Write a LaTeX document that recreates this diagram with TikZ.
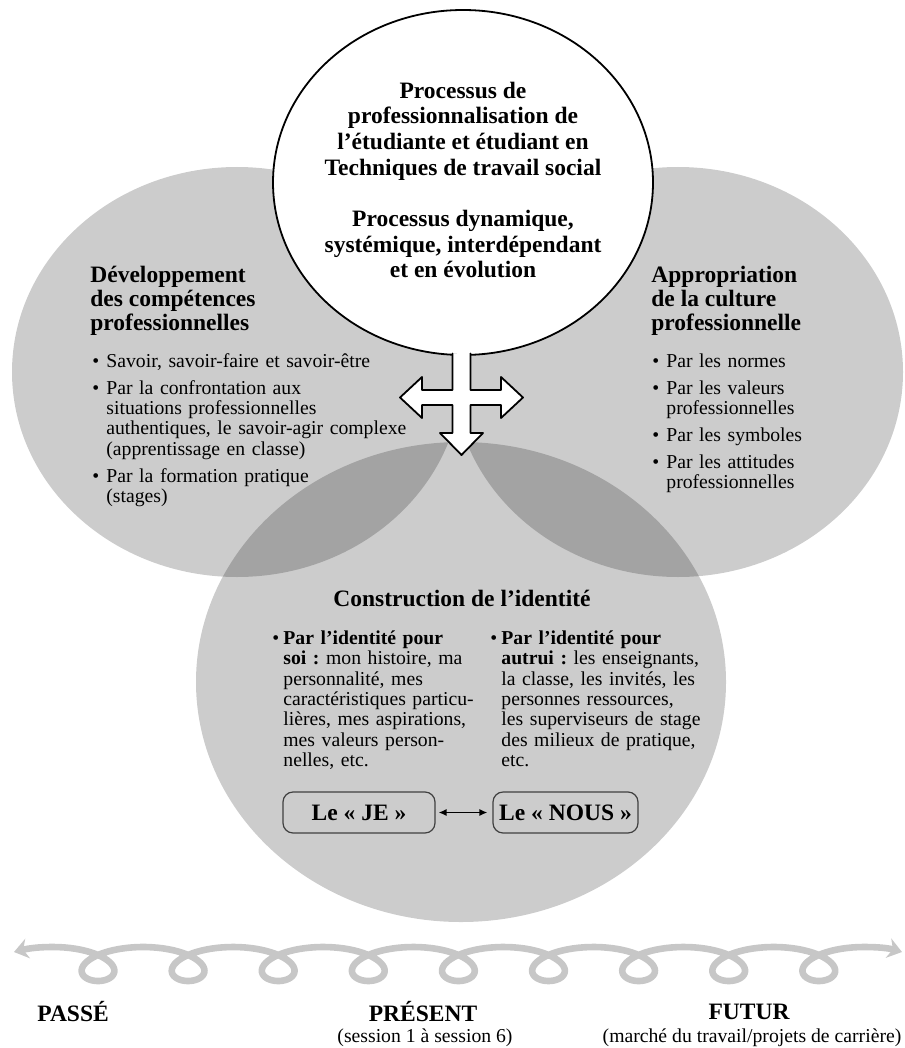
\documentclass[tikz,border=0pt]{standalone}
\usepackage{fontspec}
\setmainfont{Liberation Serif}
\usetikzlibrary{arrows.meta}

\newcommand{\corps}{\fontsize{9.85pt}{10.2pt}\selectfont\frenchspacing}
\newcommand{\gras}{\fontsize{11.75pt}{12pt}\selectfont\bfseries}
\newcommand{\grasrond}{\fontsize{11.75pt}{12.85pt}\selectfont\bfseries}
\newcommand{\puce}[2][7pt]{\par\noindent\hangindent=#1\hangafter=1\makebox[#1][l]{\textbullet}#2\par}

\begin{document}
\begin{tikzpicture}[line cap=round, line join=round, x=0.5pt, y=-0.5pt,
    zone/.style={fill=black, fill opacity=0.2},
    titre/.style={anchor=north west, inner sep=0pt, font=\gras, align=left},
    liste/.style={anchor=north west, inner sep=0pt, font=\corps\setlength{\parskip}{3.2pt}, align=left, text width=#1},
    liste/.default=110pt,
    boite/.style={draw=black!75, line width=0.6pt, rounded corners=5pt, minimum height=20.5pt, inner sep=0pt, font=\gras},
    etiq/.style={inner sep=0pt, font=\gras},
    sousetiq/.style={inner sep=0pt, font=\corps},
    frise/.style={draw=black!22, line width=3.3pt, >={Stealth[length=7pt,width=10pt]}, <->}]

                \useasboundingbox (0,0) rectangle (904,1048);

                % les trois zones grises
                \fill[zone] (237,372) ellipse [x radius=225, y radius=205];
                \fill[zone] (678,372) ellipse [x radius=225, y radius=205];
                \fill[zone] (461,682) ellipse [x radius=265, y radius=240];

                % cercle du haut et fleche en croix
                \filldraw[fill=white, line width=0.9pt] (463,182.5) ellipse [x radius=190, y radius=172.5];
                \filldraw[fill=white, line width=0.9pt] (452.5,353.5) -- (452.5,390) -- (422,390) -- (422,377)
                    -- (400,397.5) -- (422,418) -- (422,405) -- (452.5,405) -- (452.5,433) -- (440,433)
                    -- (461.5,455) -- (483,433) -- (470.5,433) -- (470.5,405) -- (501,405) -- (501,418)
                    -- (523,397.5) -- (501,377) -- (501,390) -- (470.5,390) -- (470.5,353.5);

                \node[align=center, inner sep=0pt, font=\grasrond] (processus) at (463,180)
                    {Processus de\\professionnalisation de\\l’étudiante et étudiant en\\Techniques de travail social\\[12.85pt]Processus dynamique,\\systémique, interdépendant\\et en évolution};

                % zone de gauche
                \node[titre] (competences) at (90,266) {Développement\\des compétences\\professionnelles};
                \node[liste=170pt] (listeg) at (92,340) {%
                    \puce{Savoir, savoir-faire et savoir-être}
                    \puce{Par la confrontation aux\newline situations professionnelles\newline authentiques, le savoir-agir complexe\newline (apprentissage en classe)}
                    \puce{Par la formation pratique\newline (stages)}};

                % zone de droite
                \node[titre] (culture) at (651,266) {Appropriation\\de la culture\\professionnelle};
                \node[liste] (listed) at (652,340) {%
                    \puce{Par les normes}
                    \puce{Par les valeurs\newline professionnelles}
                    \puce{Par les symboles}
                    \puce{Par les attitudes\newline professionnelles}};

                % zone du bas
                \node[etiq] (identite) at (462,598) {Construction de l’identité};
                \node[liste] (soi) at (272,617) {%
                    \puce[5.5pt]{\textbf{Par l’identité pour}\newline \textbf{soi~:} mon histoire, ma\newline personnalité, mes\newline caractéristiques particu-\newline lières, mes aspirations,\newline mes valeurs person-\newline nelles, etc.}};
                \node[liste] (autrui) at (490,617) {%
                    \puce[5.5pt]{\textbf{Par l’identité pour}\newline \textbf{autrui~:} les enseignants,\newline la classe, les invités, les\newline personnes ressources,\newline les superviseurs de stage\newline des milieux de pratique,\newline etc.}};

                \node[boite, minimum width=76pt] (je) at (359,812.5) {Le «~JE~»};
                \node[boite, minimum width=72.5pt] (nous) at (565.5,812.5) {Le «~NOUS~»};
                \draw[<->, >={Latex[length=4pt,width=3.6pt]}, line width=0.9pt, shorten <=1.5pt, shorten >=2.5pt] (je) -- (nous);

                % ligne du temps
                \coordinate (tg) at (14,952);
                \coordinate (td) at (902,952);
                \draw[frise] (tg) .. controls (30,948) and (40,947) .. (52.95,947)
                    -- plot[domain=-3.14159:53.4071, samples=500, variable=\t] ({98+14.34*\t-36*sin(\t r)}, {964+17*cos(\t r)})
                    .. controls (878,947) and (888,948) .. (td);

                \node[etiq, anchor=west] (passe) at (37,1012) {PASSÉ};
                \node[etiq] (present) at (423,1012) {PRÉSENT};
                \node[sousetiq] (session) at (425,1038) {(session 1 à session 6)};
                \node[etiq] (futur) at (749,1012) {FUTUR};
                \node[sousetiq] (carriere) at (752,1038) {(marché du travail/projets de carrière)};

            \end{tikzpicture}
\end{document}
